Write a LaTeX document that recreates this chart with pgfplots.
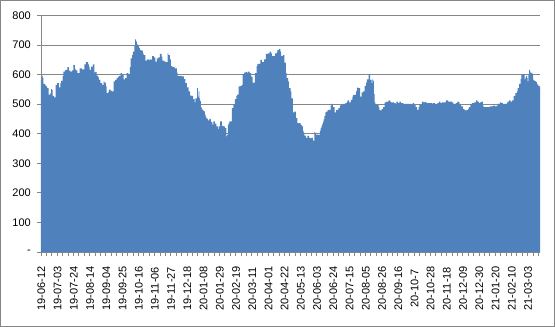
\documentclass[border=0pt]{standalone}
\usepackage{fontspec}
\setmainfont{Liberation Sans}
\usepackage{pgfplots}
\pgfplotsset{compat=1.18}
\usepackage{pgfplotstable}
\definecolor{barblue}{RGB}{79,129,189}
\definecolor{gridgray}{RGB}{134,134,134}
\pgfplotstableread[header=false,row sep=\\]{
582\\597\\590\\569\\569\\566\\562\\560\\554\\554\\
532\\532\\537\\551\\548\\528\\528\\523\\523\\565\\
565\\571\\571\\557\\557\\571\\579\\579\\595\\610\\
610\\614\\616\\616\\625\\625\\614\\612\\610\\610\\
614\\614\\633\\633\\618\\614\\614\\605\\605\\605\\
621\\621\\621\\618\\618\\618\\635\\635\\642\\642\\
642\\635\\627\\616\\616\\627\\627\\635\\635\\607\\
609\\609\\597\\597\\591\\582\\582\\571\\571\\565\\
565\\577\\573\\573\\560\\537\\537\\540\\549\\549\\
545\\545\\543\\543\\577\\577\\582\\582\\588\\588\\
593\\596\\596\\605\\605\\599\\599\\584\\584\\588\\
588\\605\\605\\602\\602\\625\\655\\655\\666\\678\\
678\\700\\719\\712\\703\\697\\697\\690\\683\\683\\
681\\681\\672\\666\\666\\647\\647\\652\\652\\650\\
650\\652\\652\\650\\663\\663\\658\\658\\644\\644\\
655\\655\\658\\658\\670\\670\\661\\647\\647\\647\\
642\\644\\642\\642\\672\\666\\666\\652\\629\\629\\
625\\625\\625\\621\\621\\621\\607\\596\\596\\596\\
596\\596\\594\\594\\594\\585\\585\\571\\571\\557\\
557\\543\\543\\529\\529\\528\\528\\517\\517\\506\\
520\\520\\554\\526\\543\\520\\510\\490\\485\\481\\
478\\476\\465\\457\\452\\450\\445\\445\\450\\450\\
439\\439\\431\\442\\442\\434\\434\\425\\425\\416\\
425\\425\\442\\442\\427\\427\\425\\425\\419\\419\\
391\\396\\430\\436\\442\\442\\442\\487\\487\\498\\
498\\517\\517\\528\\532\\532\\560\\560\\562\\562\\
565\\602\\602\\607\\607\\609\\609\\607\\610\\610\\
605\\605\\593\\593\\573\\573\\573\\605\\605\\629\\
636\\636\\636\\636\\650\\650\\642\\642\\642\\652\\
652\\670\\670\\670\\672\\672\\678\\678\\672\\663\\
663\\663\\663\\672\\672\\675\\683\\683\\687\\687\\
678\\663\\663\\666\\666\\641\\641\\605\\588\\588\\
577\\554\\554\\543\\520\\520\\472\\472\\475\\475\\
453\\453\\436\\436\\436\\436\\431\\428\\425\\410\\
403\\394\\394\\386\\386\\394\\392\\386\\386\\384\\
386\\386\\378\\376\\406\\402\\397\\397\\397\\396\\
396\\410\\419\\425\\432\\440\\449\\460\\472\\475\\
475\\481\\481\\481\\481\\495\\501\\501\\490\\490\\
472\\472\\481\\481\\481\\487\\487\\495\\498\\498\\
498\\501\\501\\501\\504\\504\\509\\513\\513\\506\\
506\\515\\515\\526\\531\\531\\532\\532\\543\\556\\
556\\554\\554\\526\\526\\540\\540\\543\\543\\562\\
562\\573\\584\\584\\601\\601\\582\\582\\571\\584\\
579\\534\\506\\499\\498\\498\\498\\490\\480\\479\\
479\\483\\483\\490\\490\\506\\506\\509\\509\\509\\
513\\513\\509\\506\\506\\506\\506\\504\\504\\501\\
509\\509\\504\\504\\509\\509\\504\\504\\504\\501\\
501\\501\\501\\501\\501\\501\\501\\501\\501\\498\\
498\\504\\504\\498\\498\\490\\490\\481\\481\\490\\
498\\498\\498\\509\\509\\506\\506\\508\\508\\504\\
504\\504\\504\\504\\504\\504\\501\\504\\504\\504\\
501\\501\\501\\504\\504\\509\\509\\504\\504\\506\\
506\\506\\506\\506\\513\\513\\513\\509\\509\\509\\
509\\509\\506\\506\\501\\501\\501\\504\\504\\509\\
509\\506\\498\\498\\493\\493\\484\\484\\481\\479\\
479\\481\\481\\484\\490\\490\\501\\501\\504\\504\\
504\\506\\506\\513\\513\\509\\509\\504\\506\\506\\
509\\509\\495\\490\\490\\490\\490\\490\\490\\490\\
490\\493\\493\\493\\493\\495\\495\\495\\493\\493\\
495\\501\\501\\501\\506\\506\\504\\504\\501\\501\\
501\\501\\501\\505\\509\\509\\513\\513\\509\\509\\
513\\513\\528\\528\\537\\537\\543\\554\\554\\569\\
569\\585\\599\\599\\602\\602\\584\\590\\596\\590\\
577\\600\\616\\610\\605\\607\\600\\582\\580\\579\\
577\\575\\569\\565\\562\\560\\
}\data

\begin{document}
\fontsize{11pt}{13pt}\selectfont
\begin{tikzpicture}
\begin{axis}[
  scale only axis,
  width=499pt, height=236.5pt,
  xmin=-0.5, xmax=645.5,
  ymin=0, ymax=800,
  axis x line*=bottom,
  axis y line*=left,
  axis line style={gridgray, line width=0.8pt},
  tick align=outside,
  major tick length=4pt,
  minor tick length=4pt,
  tick style={gridgray, line width=0.8pt},
  major x tick style={draw=none},
  ytick={0,100,...,800},
  yticklabels={-,100,200,300,400,500,600,700,800},
  ymajorgrids,
  grid style={gridgray, line width=0.8pt},
  xtick={0,21,...,630},
  minor xtick={-0.5,6.5,...,644.5},
  xticklabels={19-06-12,19-07-03,19-07-24,19-08-14,19-09-04,19-09-25,19-10-16,19-11-06,19-11-27,19-12-18,20-01-08,20-01-29,20-02-19,20-03-11,20-04-01,20-04-22,20-05-13,20-06-03,20-06-24,20-07-15,20-08-05,20-08-26,20-09-16,20-10-7,20-10-28,20-11-18,20-12-09,20-12-30,21-01-20,21-02-10,21-03-03},
  xticklabel style={yshift=-9pt, rotate=90, anchor=east, inner sep=0pt, text width=47pt, align=center, font=\fontsize{11pt}{13pt}\selectfont},
  yticklabel style={inner sep=0pt, anchor=east, xshift=-6pt, font=\fontsize{11pt}{13pt}\selectfont},
]
\addplot[ybar, bar width=1, fill=barblue, draw=none] table[x expr=\coordindex, y index=0] {\data};
\end{axis}
\draw[gridgray, line width=0.8pt] ([shift={(-40.6pt,-74.6pt)}]current axis.south west) rectangle ([shift={(14.6pt,15.1pt)}]current axis.north east);
\end{tikzpicture}
\end{document}
